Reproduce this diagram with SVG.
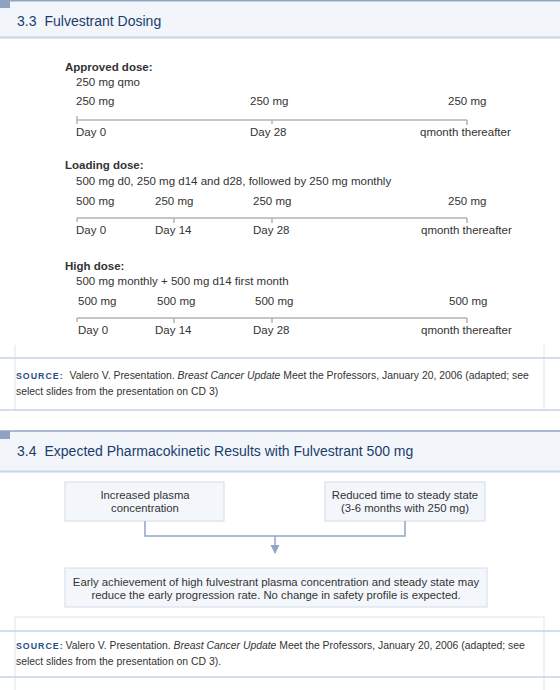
<svg xmlns="http://www.w3.org/2000/svg" width="560" height="690" viewBox="0 0 560 690">
<defs>
<style>
.t{font-family:"Liberation Sans",Arial,sans-serif;fill:#333;font-size:11.5px}
.bx{font-family:"Liberation Sans",Arial,sans-serif;fill:#333;font-size:11.3px}
.b{font-weight:bold}
.h{font-family:"Liberation Sans",Arial,sans-serif;fill:#1b3c6b;font-size:14px}
.s{font-family:"Liberation Sans",Arial,sans-serif;fill:#333;font-size:10.4px}
.src{font-family:"Liberation Sans",Arial,sans-serif;fill:#1f4f8a;font-size:8.8px;font-weight:bold;letter-spacing:1px}
.tl{stroke:#b4b4b4;stroke-width:1.5;fill:none}
.box{fill:#f3f7fc;stroke:#d3dce8;stroke-width:1}
.frame{stroke:#dde3ea;stroke-width:1;fill:none}
.sep{stroke:#c5d3e6;stroke-width:1.5}
.con{stroke:#8fa6c6;stroke-width:1.5;fill:none}
</style>
<marker id="arr" markerWidth="10" markerHeight="10" refX="8" refY="5" orient="auto" markerUnits="userSpaceOnUse">
<path d="M0,0.5 L9,5 L0,9.5 Z" fill="#8fa6c6"/>
</marker>
</defs>
<rect width="560" height="690" fill="#fff"/>

<g id="header-1">
<rect x="0" y="0" width="560" height="38" fill="#f2f6fb"/>
<line x1="0" y1="0.75" x2="560" y2="0.75" stroke="#8da6c6" stroke-width="1.5"/>
<line x1="0" y1="37.5" x2="560" y2="37.5" stroke="#c5d6ea" stroke-width="2"/>
<rect x="0" y="0" width="10" height="8" fill="#8fa3c0"/>
<text class="h" x="17" y="26">3.3<tspan dx="8">Fulvestrant Dosing</tspan></text>
</g>

<g id="approved">
<text class="t b" x="65" y="71">Approved dose:</text>
<text class="t" x="76" y="86">250 mg qmo</text>
<text class="t" x="76" y="105">250 mg</text>
<text class="t" x="250" y="105">250 mg</text>
<text class="t" x="448" y="105">250 mg</text>
<path class="tl" d="M77,120 H467 M77,116 V124 M272,120 V124 M467,120 V125"/>
<text class="t" x="76" y="136">Day 0</text>
<text class="t" x="250" y="136">Day 28</text>
<text class="t" x="420" y="136">qmonth thereafter</text>
</g>

<g id="loading">
<text class="t b" x="65" y="169">Loading dose:</text>
<text class="t" x="76" y="185">500 mg d0, 250 mg d14 and d28, followed by 250 mg monthly</text>
<text class="t" x="76" y="205">500 mg</text>
<text class="t" x="155" y="205">250 mg</text>
<text class="t" x="253" y="205">250 mg</text>
<text class="t" x="448" y="205">250 mg</text>
<path class="tl" d="M77,218 H467 M77,218 V222 M174,218 V223 M272,218 V223 M467,218 V223"/>
<text class="t" x="76" y="234">Day 0</text>
<text class="t" x="155" y="234">Day 14</text>
<text class="t" x="253" y="234">Day 28</text>
<text class="t" x="421" y="234">qmonth thereafter</text>
</g>

<g id="high">
<text class="t b" x="65" y="270">High dose:</text>
<text class="t" x="76" y="285">500 mg monthly + 500 mg d14 first month</text>
<text class="t" x="78" y="305">500 mg</text>
<text class="t" x="157" y="305">500 mg</text>
<text class="t" x="255" y="305">500 mg</text>
<text class="t" x="449" y="305">500 mg</text>
<path class="tl" d="M77,318 H467 M77,318 V322 M174,318 V323 M272,318 V323 M467,318 V323"/>
<text class="t" x="78" y="334">Day 0</text>
<text class="t" x="155" y="334">Day 14</text>
<text class="t" x="253" y="334">Day 28</text>
<text class="t" x="421" y="334">qmonth thereafter</text>
</g>

<g id="source-1">
<path class="frame" d="M15,345 V410 M544,345 V410"/>
<line class="sep" x1="0" y1="358" x2="560" y2="358"/>
<line class="sep" x1="0" y1="410" x2="560" y2="410"/>
<text x="16" y="379"><tspan class="src">SOURCE:</tspan><tspan class="s" dx="6">Valero V. Presentation. </tspan><tspan class="s" font-style="italic">Breast Cancer Update</tspan><tspan class="s"> Meet the Professors, January 20, 2006 (adapted; see</tspan></text>
<text class="s" x="16" y="395">select slides from the presentation on CD 3)</text>
</g>

<g id="header-2">
<rect x="0" y="431" width="560" height="41" fill="#f2f6fb"/>
<line x1="0" y1="431" x2="560" y2="431" stroke="#8da6c6" stroke-width="1.5"/>
<line x1="0" y1="471.5" x2="560" y2="471.5" stroke="#c5d6ea" stroke-width="2"/>
<rect x="0" y="431" width="10" height="8" fill="#8fa3c0"/>
<text class="h" x="17" y="456">3.4<tspan dx="8">Expected Pharmacokinetic Results with Fulvestrant 500 mg</tspan></text>
</g>

<g id="node-plasma">
<rect class="box" x="65" y="482" width="159" height="39"/>
<text class="bx" x="145" y="499" text-anchor="middle">Increased plasma</text>
<text class="bx" x="145" y="512" text-anchor="middle">concentration</text>
</g>

<g id="node-steady">
<rect class="box" x="325" y="482" width="160" height="39"/>
<text class="bx" x="405" y="499" text-anchor="middle">Reduced time to steady state</text>
<text class="bx" x="405" y="512" text-anchor="middle">(3-6 months with 250 mg)</text>
</g>

<g id="node-result">
<rect class="box" x="65" y="568" width="422" height="39"/>
<text class="bx" x="276" y="586" text-anchor="middle">Early achievement of high fulvestrant plasma concentration and steady state may</text>
<text class="bx" x="276" y="599" text-anchor="middle">reduce the early progression rate. No change in safety profile is expected.</text>
</g>

<g id="connectors">
<path class="con" d="M145,521 V536 H405 V521"/>
<path class="con" d="M275,536 V553" marker-end="url(#arr)"/>
</g>

<g id="source-2">
<path class="frame" d="M15,690 V617 H544 V690"/>
<line class="sep" x1="0" y1="631" x2="560" y2="631"/>
<line class="sep" x1="0" y1="677" x2="560" y2="677"/>
<text x="16" y="649"><tspan class="src">SOURCE:</tspan><tspan class="s" dx="2">Valero V. Presentation. </tspan><tspan class="s" font-style="italic">Breast Cancer Update</tspan><tspan class="s"> Meet the Professors, January 20, 2006 (adapted; see</tspan></text>
<text class="s" x="16" y="665">select slides from the presentation on CD 3).</text>
</g>
</svg>
